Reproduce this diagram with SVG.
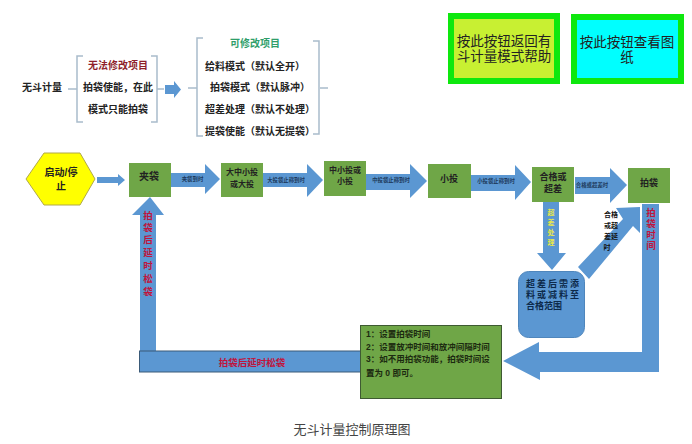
<svg xmlns="http://www.w3.org/2000/svg" width="692" height="444" viewBox="0 0 692 444">
<style>
text{font-family:"Liberation Sans","Noto Sans CJK SC",sans-serif;text-anchor:middle;fill:#222}
.n{fill:#6fa647}
.a{fill:#5b97d2}
.o{stroke:#3a5a78;stroke-width:1}
.l{fill:none;stroke:#a9bccb;stroke-width:1.500}
.t{font-size:10px;font-weight:700}
.m{font-size:9px;font-weight:700}
.h{font-size:8px;font-weight:700}
.s{font-size:5.400px;font-weight:700;fill:#1d3a5c}
.r{font-size:9.500px;font-weight:700;fill:#c0143c}
.y{font-size:7px;font-weight:700;fill:#e8e84a}
.g{font-size:8.500px;font-weight:700;fill:#1c2a10;text-anchor:start}
.k{font-size:7px;font-weight:700;fill:#111}
.f{font-size:9px;font-weight:700;fill:#0d2a4a;text-anchor:start}
.u{font-size:13.500px}
</style>
<rect width="692" height="444" fill="#fff"/>
<g id="connectors">
<path class="l" d="M68 89H77M157 89H164M188 88H197M320 88H328"/>
<path class="a" d="M165 85H174V81L181 89.500L174 98V94H165Z"/>
<path class="a" d="M97 177H118V174L125 180L118 186V183H97Z"/>
<path class="a" d="M171 173H205V164L220 179L205 194V187H171Z"/>
<path class="a" d="M263 173H307V164L323 180L307 197V187H263Z"/>
<path class="a" d="M366 174H410V164L427 181L410 198V190H366Z"/>
<path class="a" d="M471 175H515V165L531 182L515 200V191H471Z"/>
<path class="a" d="M575 177H610V168L627 185L610 203V194H575Z"/>
<path class="a" d="M543 202H559V253H566L552 270L537 253H543Z"/>
<path class="a" d="M578 267L623 219L616 208L640 207L640 233L633 226L589 279Z"/>
<path class="a" d="M642 204H659V372H540V380L503 361L539 342V352H642Z"/>
<path class="a" d="M150 197L164 215H156V351H140V215H132Z"/>
<rect class="a o" x="139.500" y="351" width="221" height="21"/>
<text class="s" x="192.500" y="181">夹袋到时</text>
<text class="s" x="286" y="182">大投袋止称到时</text>
<text class="s" x="391" y="182">中投袋止称到时</text>
<text class="s" x="496" y="183">小投袋止称到时</text>
<text class="s" x="592" y="187">合格或超差时</text>
<text class="y"><tspan x="551" y="215">超</tspan><tspan x="551" y="225">差</tspan><tspan x="551" y="235">处</tspan><tspan x="551" y="245">理</tspan></text>
<text class="k"><tspan x="611" y="217">合格</tspan><tspan x="611" y="228">或超</tspan><tspan x="611" y="239">差延</tspan><tspan x="607" y="250">时</tspan></text>
<text class="r"><tspan x="651" y="216">拍</tspan><tspan x="651" y="227">袋</tspan><tspan x="651" y="238">时</tspan><tspan x="651" y="249">间</tspan></text>
<text class="r"><tspan x="148" y="219">拍</tspan><tspan x="148" y="231">袋</tspan><tspan x="148" y="243">后</tspan><tspan x="148" y="256">延</tspan><tspan x="148" y="269">时</tspan><tspan x="148" y="282">松</tspan><tspan x="148" y="295">袋</tspan></text>
<text class="r" x="252" y="366">拍袋后延时松袋</text>
</g>
<g id="label-left"><text x="42" y="91" class="t">无斗计量</text></g>
<g id="fixed-items">
<path class="l" d="M83 56H77V122H83M151 56H157V122H151"/>
<text class="t"><tspan x="118" y="69" style="fill:#8e1f2b">无法修改项目</tspan><tspan x="118" y="91">拍袋使能，在此</tspan><tspan x="118" y="113">模式只能拍袋</tspan></text>
</g>
<g id="editable-items">
<path class="l" d="M203 38H197V136H203M313 41H319V134H313"/>
<text class="t"><tspan x="255" y="47" style="fill:#2f9e6a">可修改项目</tspan><tspan x="255" y="70">给料模式（默认全开）</tspan><tspan x="260" y="91">拍袋模式（默认脉冲）</tspan><tspan x="260" y="113">超差处理（默认不处理）</tspan><tspan x="260" y="135">提袋使能（默认无提袋）</tspan></text>
</g>
<g id="button-help">
<rect x="451" y="16" width="106" height="65" fill="#c8f032" stroke="#0ee80e" stroke-width="6"/>
<text class="u"><tspan x="504" y="46">按此按钮返回有</tspan><tspan x="504" y="61">斗计量模式帮助</tspan></text>
</g>
<g id="button-drawing">
<rect x="574" y="17" width="107" height="64" fill="#00ffff" stroke="#0ee80e" stroke-width="6"/>
<text class="u"><tspan x="627" y="47">按此按钮查看图</tspan><tspan x="627" y="62">纸</tspan></text>
</g>
<g id="start-stop">
<path d="M26 179L44 153H80L95 179L80 205H44Z" fill="#ffff00" stroke="#b0a84a" stroke-width="1"/>
<text class="t"><tspan x="61" y="176">启动/停</tspan><tspan x="61" y="190">止</tspan></text>
</g>
<g id="clamp"><rect class="n" x="129" y="163" width="42" height="34"/><text x="149" y="180" class="t">夹袋</text></g>
<g id="large-feed"><rect class="n" x="221" y="163" width="42" height="34"/><text class="h"><tspan x="242" y="175">大中小投</tspan><tspan x="242" y="187">或大投</tspan></text></g>
<g id="medium-feed"><rect class="n" x="324" y="161" width="42" height="35"/><text class="h"><tspan x="345" y="173">中小投或</tspan><tspan x="345" y="184">小投</tspan></text></g>
<g id="small-feed"><rect class="n" x="428" y="164" width="43" height="34"/><text x="449" y="182" class="m">小投</text></g>
<g id="qualified"><rect class="n" x="532" y="167" width="42" height="35"/><text class="m"><tspan x="553" y="180">合格或</tspan><tspan x="553" y="192">超差</tspan></text></g>
<g id="bagging"><rect class="n" x="628" y="168" width="42" height="35"/><text x="649" y="186" class="m">拍袋</text></g>
<g id="refill">
<rect x="518.500" y="271.500" width="66" height="66" rx="10" fill="#5b97d2" stroke="#4f86bc" stroke-width="1"/>
<text class="f"><tspan x="526" y="287" letter-spacing="2">超差后需添</tspan><tspan x="526" y="298" letter-spacing="2">料或减料至</tspan><tspan x="526" y="309">合格范围</tspan></text>
</g>
<g id="settings">
<rect x="360.500" y="325.500" width="141" height="73" fill="#6fa647" stroke="#3e5a32" stroke-width="1"/>
<text class="g"><tspan x="366" y="337">1：设置拍袋时间</tspan><tspan x="366" y="350">2：设置放冲时间和放冲间隔时间</tspan><tspan x="366" y="362">3：如不用拍袋功能，拍袋时间设</tspan><tspan x="366" y="376">置为 0 即可。</tspan></text>
</g>
<g id="caption"><text x="352" y="434" font-size="13" style="fill:#444">无斗计量控制原理图</text></g>
</svg>
